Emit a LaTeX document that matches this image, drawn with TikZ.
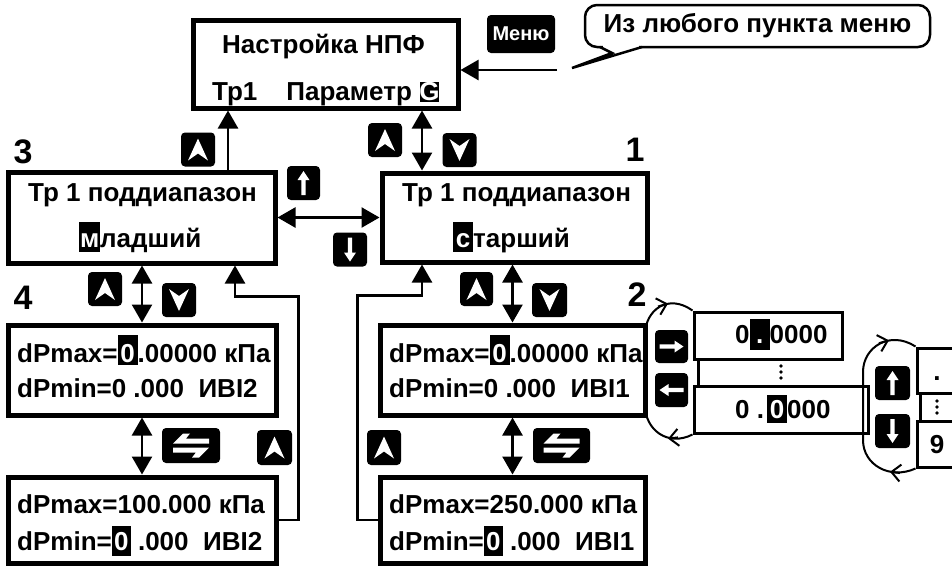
\documentclass[tikz,border=0pt]{standalone}
\usepackage{fontspec}
\setmainfont{Liberation Sans}
\usetikzlibrary{arrows.meta,calc}
\newcommand{\hlbox}[4]{{\setlength{\fboxsep}{0pt}\colorbox{black}{\makebox[#1]{\color{white}\rule[#2]{0pt}{#3}#4}}}}
\tikzset{
  boxn/.style={draw, line width=5pt, inner sep=0pt},
  cbox/.style={draw, line width=3pt, inner sep=0pt},
  txt/.style={font=\fontsize{26}{30}\selectfont\bfseries, inner sep=0pt, anchor=base west},
  txtc/.style={font=\fontsize{26}{30}\selectfont\bfseries, inner sep=0pt, anchor=base},
  lbl/.style={font=\fontsize{34}{38}\selectfont\bfseries, inner sep=0pt},
  keyn/.style={fill=black, rounded corners=4pt, inner sep=0pt, draw=none},
  arr/.style={line width=2.5pt, -{Triangle[length=18pt,width=20pt]}},
  darr/.style={line width=2.5pt, {Triangle[length=18pt,width=20pt]}-{Triangle[length=18pt,width=20pt]}},
  loopst/.style={line width=2pt},
  looptip/.style={line width=2pt, -{Straight Barb[length=9pt,width=17pt]}},
  chevup/.pic={\fill[white] (0,-11) -- (10,11) -- (0,4) -- (-10,11) -- cycle;},
  chevdown/.pic={\fill[white] (0,11) -- (10,-11) -- (0,-4) -- (-10,-11) -- cycle;},
  arrowup/.pic={\fill[white] (0,-12) -- (6,-3) -- (2.2,-3) -- (2.2,12) -- (-2.2,12) -- (-2.2,-3) -- (-6,-3) -- cycle;},
  arrowdown/.pic={\fill[white] (0,12) -- (6,3) -- (2.2,3) -- (2.2,-12) -- (-2.2,-12) -- (-2.2,3) -- (-6,3) -- cycle;},
  arrowright/.pic={\fill[white] (12,0) -- (3,-6) -- (3,-2.2) -- (-12,-2.2) -- (-12,2.2) -- (3,2.2) -- (3,6) -- cycle;},
  arrowleft/.pic={\fill[white] (-12,0) -- (-3,-6) -- (-3,-2.2) -- (12,-2.2) -- (12,2.2) -- (-3,2.2) -- (-3,6) -- cycle;},
  swapsym/.pic={\fill[white] (-18,-2) -- (18,-2) -- (18,-7) -- (-5,-7) -- (-1,-12) -- (-8,-12) -- cycle;
                \fill[white] (18,2) -- (-18,2) -- (-18,7) -- (5,7) -- (1,12) -- (8,12) -- cycle;}
}
\begin{document}
\begin{tikzpicture}[x=1pt,y=-1pt]
\useasboundingbox (0,0) rectangle (952,566);
\clip (0,0) rectangle (952,566);

% main boxes
\node[boxn, minimum width=265pt, minimum height=88pt] (top) at (325.5,64) {};
\node[boxn, minimum width=267pt, minimum height=91pt] (box3) at (141.5,217.5) {};
\node[boxn, minimum width=265pt, minimum height=89pt] (box1) at (514.5,217.5) {};
\node[boxn, minimum width=268pt, minimum height=90pt] (box4a) at (142,370) {};
\node[boxn, minimum width=268pt, minimum height=86pt] (box4b) at (142,520) {};
\node[boxn, minimum width=265pt, minimum height=90pt] (box2a) at (512.5,370) {};
\node[boxn, minimum width=265pt, minimum height=86pt] (box2b) at (512.5,520) {};

% texts
\node[txt] (t0a) at (222,53) {Настройка НПФ};
\node[txt] (t0b) at (212,100) {Тр1\hspace{29pt}Параметр\hspace{8pt}\hlbox{19pt}{-2pt}{19pt}{G}};
\node[txt] (t3a) at (28,201) {Тр 1 поддиапазон};
\node[txt] (t3b) at (79,247) {\hlbox{21pt}{-5pt}{30pt}{м}ладший};
\node[txt] (t1a) at (402,201) {Тр 1 поддиапазон};
\node[txt] (t1b) at (453,247) {\hlbox{20pt}{-5pt}{30pt}{с}тарший};
\node[txt] (t4a1) at (17,362) {dPmax=\hlbox{20pt}{-3pt}{30pt}{0}.00000 кПа};
\node[txt] (t4a2) at (17,397) {dPmin=0 .000\ \ ИВІ2};
\node[txt] (t4b1) at (17,513) {dPmax=100.000 кПа};
\node[txt] (t4b2) at (17,550) {dPmin=\hlbox{19pt}{-6pt}{30pt}{0} .000\ \ ИВІ2};
\node[txt] (t2a1) at (389,362) {dPmax=\hlbox{20pt}{-3pt}{30pt}{0}.00000 кПа};
\node[txt] (t2a2) at (389,397) {dPmin=0 .000\ \ ИВІ1};
\node[txt] (t2b1) at (389,513) {dPmax=250.000 кПа};
\node[txt] (t2b2) at (389,550) {dPmin=\hlbox{19pt}{-6pt}{30pt}{0} .000\ \ ИВІ1};

% labels
\node[lbl] (l3) at (23,152) {3};
\node[lbl] (l1) at (635,150) {1};
\node[lbl] (l4) at (23,298) {4};
\node[lbl] (l2) at (637,295) {2};

% keys
\node[keyn, minimum width=34pt, minimum height=34pt] (kU3) at (198,149.5) {};
\pic at (kU3) {chevup};
\node[keyn, minimum width=34pt, minimum height=34pt] (kU1) at (385,140) {};
\pic at (kU1) {chevup};
\node[keyn, minimum width=34pt, minimum height=34pt] (kD1) at (459.5,150) {};
\pic at (kD1) {chevdown};
\node[keyn, minimum width=33pt, minimum height=34pt] (kAU) at (303.5,183) {};
\pic at (kAU) {arrowup};
\node[keyn, minimum width=34pt, minimum height=34pt] (kAD) at (350,249.5) {};
\pic at (kAD) {arrowdown};
\node[keyn, minimum width=34pt, minimum height=34pt] (kU34) at (105,289) {};
\pic at (kU34) {chevup};
\node[keyn, minimum width=34pt, minimum height=34pt] (kD34) at (179,300) {};
\pic at (kD34) {chevdown};
\node[keyn, minimum width=33pt, minimum height=34pt] (kU12) at (476.5,289) {};
\pic at (kU12) {chevup};
\node[keyn, minimum width=35pt, minimum height=34pt] (kD12) at (549.5,300) {};
\pic at (kD12) {chevdown};
\node[keyn, minimum width=58pt, minimum height=35pt] (kSL) at (191,445.5) {};
\pic at (kSL) {swapsym};
\node[keyn, minimum width=35pt, minimum height=35pt] (kU4b) at (274.5,447.5) {};
\pic at (kU4b) {chevup};
\node[keyn, minimum width=34pt, minimum height=35pt] (kU2b) at (384,447.5) {};
\pic at (kU2b) {chevup};
\node[keyn, minimum width=57pt, minimum height=35pt] (kSR) at (561.5,445.5) {};
\pic at (kSR) {swapsym};
\node[keyn, minimum width=33pt, minimum height=33pt] (kR) at (671.5,346.5) {};
\pic at (kR) {arrowright};
\node[keyn, minimum width=33pt, minimum height=34pt] (kL) at (671.5,390) {};
\pic at (kL) {arrowleft};
\node[keyn, minimum width=35pt, minimum height=34pt] (kUp3) at (892.5,383) {};
\pic at (kUp3) {arrowup};
\node[keyn, minimum width=35pt, minimum height=34pt] (kDn3) at (892.5,431) {};
\pic at (kDn3) {arrowdown};
\node[keyn, minimum width=68pt, minimum height=38pt, text=white, font=\fontsize{20}{24}\selectfont\bfseries] (menu) at (521,34) {Меню};

% speech bubble
\node[draw, line width=2.5pt, rounded corners=12pt, minimum width=345pt, minimum height=42pt,
      inner sep=0pt, text height=19pt, text depth=6pt, font=\fontsize{26}{30}\selectfont\bfseries] (bubble) at (757.5,26) {Из любого пункта меню};
\fill[white] (603,44) rectangle (639,50);
\draw[line width=2.5pt, line join=miter] (600,47) -- (612,53) -- (572,68) -- (642,47);

% connectors
\coordinate (mstart) at (557,70);
\draw[arr] (mstart) -- (mstart -| top.east);
\coordinate (p1) at ([xshift=86.5pt]box3.north);
\draw[arr] (p1) -- (p1 |- top.south);
\coordinate (p2) at ([xshift=-92.5pt]box1.north);
\draw[darr] (p2) -- (p2 |- top.south);
\draw[darr] (box3.east) -- (box1.west);
\draw[darr] (box4a.north) -- (box4a.north |- box3.south);
\draw[darr] (box4a.south) -- (box4b.north);
\draw[darr] (box2a.north) -- (box2a.north |- box1.south);
\draw[darr] (box2a.south) -- (box2b.north);
\coordinate (p6) at ([xshift=93.5pt]box3.south);
\draw[arr] (box4b.east) -- ++(20,0) |- ([yshift=-31pt]p6) -- (p6);
\coordinate (p9) at ([xshift=-92.5pt]box1.south);
\draw[arr] (box2b.west) -- ++(-20,0) |- ([yshift=-31pt]p9) -- (p9);

% digit editing cycle
\node[cbox, minimum width=148pt, minimum height=47pt] (c2u) at (768,335.5) {};
\node[cbox, minimum width=174pt, minimum height=47pt] (c2l) at (781,409.5) {};
\node[txt] (c2ut) at (735,343) {0\hlbox{20pt}{-7pt}{31pt}{.}0000};
\node[txt] (c2lt) at (735,418) {0 .\hspace{3pt}\hlbox{20pt}{-5pt}{28pt}{0}000};
\draw[line width=3pt] ([xshift=6pt]c2u.south west) -- ([xshift=6pt]c2l.north west);
\fill (781,366) circle (1.8pt) (781,372) circle (1.8pt) (781,378) circle (1.8pt);
\draw[loopst] (c2l.south west) .. controls (668,447) and (645,430) .. (645,405) -- (645,335) .. controls (645,310) and (668,293) .. (c2u.north west);
\draw[looptip] (678,437.4) -- (668,438.6);
\draw[looptip] (658,306.5) -- (668,303.6);

\node[cbox, minimum width=46pt, minimum height=45pt] (c3u) at (940,370.5) {};
\node[cbox, minimum width=46pt, minimum height=46pt] (c3l) at (940,444) {};
\node[txtc] (c3ut) at (937,380) {.};
\node[txtc] (c3lt) at (937,453) {9};
\draw[line width=3pt] ([xshift=5pt]c3u.south west) -- ([xshift=5pt]c3l.north west);
\fill (937,401) circle (1.8pt) (937,407) circle (1.8pt) (937,413) circle (1.8pt);
\draw[loopst] (c3l.south west) .. controls (890,480) and (863,465) .. (863,440) -- (863,372) .. controls (863,347) and (890,330) .. (c3u.north west);
\draw[looptip] (900,473) -- (890,471.8);
\draw[looptip] (879,343.2) -- (889,340.3);
\end{tikzpicture}
\end{document}
